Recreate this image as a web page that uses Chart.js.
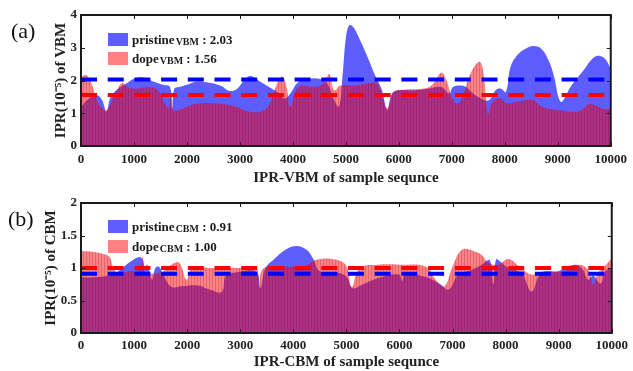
<!DOCTYPE html>
<html>
<head>
<meta charset="utf-8">
<script src="https://cdn.jsdelivr.net/npm/chart.js@4.4.1/dist/chart.umd.min.js"></script>
<style>
  body { margin: 0; background: #fff; width: 633px; height: 371px; overflow: hidden; position: relative; font-family: "Liberation Serif", serif; }
  canvas { position: absolute; left: 0; }
  #cA { top: 0; }
  #cB { top: 187px; }
  .tag { position: absolute; font-size: 22px; line-height: 22px; color: #111; }
  .row { position: absolute; left: 108px; height: 13px; display: flex; align-items: center; font-weight: bold; font-size: 13px; color: #1a1a1a; white-space: nowrap; }
  .row .box { width: 20px; height: 13px; margin-right: 4px; }
  .row sub { font-size: 10px; line-height: 0; position: relative; top: 2px; vertical-align: baseline; margin-left: 1px; }
</style>
</head>
<body>
<canvas id="cA" width="633" height="187"></canvas>
<canvas id="cB" width="633" height="184"></canvas>

<div class="tag" style="left:11px;top:20px">(a)</div>
<div class="tag" style="left:8px;top:208px">(b)</div>

<div class="row" style="top:33px"><span class="box" style="background:rgba(0,0,255,0.63)"></span>pristine<sub>VBM</sub>&nbsp;: 2.03</div>
<div class="row" style="top:52px"><span class="box" style="background:rgba(255,0,0,0.49)"></span>dope<sub>VBM</sub>&nbsp;: 1.56</div>
<div class="row" style="top:220px"><span class="box" style="background:rgba(0,0,255,0.63)"></span>pristine<sub>CBM</sub>&nbsp;: 0.91</div>
<div class="row" style="top:240px"><span class="box" style="background:rgba(255,0,0,0.49)"></span>dope<sub>CBM</sub>&nbsp;: 1.00</div>

<script>
// tick labels
const sampleTicks = [0, 1000, 2000, 3000, 4000, 5000, 6000, 7000, 8000, 9000, 10000];
const vbmTicks = [0, 1, 2, 3, 4];
const cbmTicks = [0, 0.5, 1, 1.5, 2];

// averages (dashed lines)
const pristineVbmMean = 2.03;
const dopeVbmMean = 1.56;
const pristineCbmMean = 0.91;
const dopeCbmMean = 1.00;

// (a) VBM
const pristineVbmX = [0,150,300,400,480,560,700,850,1000,1150,1350,1550,1680,1720,1760,1850,2000,2200,2450,2650,2800,2950,3100,3200,3350,3550,3700,3850,3950,4100,4300,4500,4650,4780,4870,4940,5000,5060,5130,5220,5320,5430,5560,5680,5780,5870,6000,6300,6550,6800,6950,7020,7150,7270,7400,7550,7700,7830,7930,8020,8110,8250,8400,8550,8700,8830,8930,9020,9080,9240,9490,9680,9800,9900,10000];
const pristineVbmY = [1.2,1.45,1.55,1.4,1.05,1.5,1.75,1.9,2.05,2.1,1.98,1.87,1.8,1.15,1.75,1.8,1.87,1.97,1.92,1.83,1.68,1.75,2.05,2.14,2.0,1.8,1.65,1.45,1.6,1.95,2.05,2.05,1.9,1.4,1.2,2.2,3.3,3.68,3.65,3.4,3.05,2.63,2.12,1.71,1.1,1.6,1.7,1.7,1.75,1.8,1.6,1.8,1.85,1.8,1.6,1.45,1.4,1.71,1.75,1.65,2.42,2.8,2.98,3.05,2.95,2.6,2.12,1.45,1.35,1.8,2.32,2.7,2.75,2.65,2.37];
const dopeVbmX = [0,100,200,300,400,480,560,680,780,880,1000,1300,1450,1600,1660,1700,1740,1850,2000,2200,2600,2800,3000,3150,3400,3550,3700,3800,3880,3950,4100,4450,4600,4685,4780,4900,5200,5450,5600,5780,5900,6100,6500,6650,6800,6900,7000,7100,7200,7350,7520,7600,7680,7750,7900,8050,8300,8520,8700,8900,9100,9400,9600,9760,9900,10000];
const dopeVbmY = [2.1,2.17,1.9,1.4,1.15,1.1,1.3,1.7,1.92,1.8,1.75,1.8,1.7,1.25,1.15,1.6,1.1,1.1,1.2,1.3,1.3,1.25,1.15,1.05,1.05,1.25,1.9,2.12,1.8,1.2,1.8,1.81,1.95,2.2,1.7,1.85,1.85,1.92,1.9,1.15,1.65,1.72,1.76,1.9,2.24,2.0,1.5,1.3,1.5,2.2,2.57,2.2,0.95,1.3,1.45,1.3,1.38,1.41,1.2,1.12,1.08,1.06,1.28,1.2,1.12,1.15];

// (b) CBM
const pristineCbmX = [0,300,600,750,900,1100,1170,1200,1250,1340,1400,1470,1550,1700,1900,2200,2450,2650,2730,2900,3300,3380,3450,3500,3630,3850,4060,4250,4370,4500,4800,5000,5120,5310,5620,5990,6050,6100,6400,6620,6750,6930,7110,7360,7550,7700,7770,7820,7900,8050,8300,8490,8670,8990,9300,9450,9550,9650,9790,9880,10000];
const pristineCbmY = [0.85,0.86,0.9,0.98,1.08,1.17,1.12,1.0,1.05,0.82,1.0,1.02,0.9,0.71,0.72,0.73,0.66,0.63,0.88,0.93,0.94,0.69,0.95,1.03,1.13,1.28,1.34,1.28,1.15,0.95,0.93,0.87,0.69,0.75,0.85,0.9,0.8,0.89,0.88,0.82,0.76,0.67,0.9,0.97,1.05,1.12,0.75,1.13,1.1,1.0,0.92,0.64,0.92,0.95,1.05,0.98,0.82,0.88,0.76,0.95,1.0];
const dopeCbmX = [0,200,400,540,600,700,900,1100,1160,1200,1500,1700,1850,1990,2100,2400,2700,3000,3300,3360,3420,3700,4200,4450,4800,5000,5100,5250,5600,6000,6500,6700,6850,6990,7180,7430,7550,7680,7860,8050,8240,8490,8730,9110,9360,9550,9650,9740,9860,10000];
const dopeCbmY = [1.26,1.25,1.22,1.17,1.02,0.92,0.95,0.98,1.18,0.95,0.93,1.05,1.08,0.82,1.02,1.0,1.0,1.0,1.0,0.71,0.98,1.02,1.03,1.13,1.13,1.03,0.7,1.0,1.05,1.05,1.02,0.8,0.72,1.0,1.28,1.25,1.2,1.08,1.05,1.14,1.04,0.9,0.95,0.95,1.05,0.98,0.75,0.92,1.02,1.15];

const BLUE_FILL = 'rgba(0,0,255,0.63)';
const RED_FILL = 'rgba(255,0,0,0.49)';
const FONT = '"Liberation Serif", "Times New Roman", serif';

function toPoints(xs, ys) {
    return xs.map((x, i) => ({ x: x, y: ys[i] }));
}

// thin vertical bar edges like the matlab bar plot underneath
function stripedFill(ctx, base) {
    const pc = document.createElement('canvas');
    pc.width = 3; pc.height = 4;
    const p = pc.getContext('2d');
    p.fillStyle = base;
    p.fillRect(0, 0, 3, 4);
    p.fillStyle = 'rgba(110,0,70,0.22)';
    p.fillRect(2, 0, 1, 4);
    return ctx.createPattern(pc, 'repeat');
}

// box around the plot with matlab-style inward ticks
const boxPlugin = {
    id: 'box',
    afterDatasetsDraw(chart) {
        const { ctx, chartArea: a, scales: { x, y } } = chart;
        ctx.save();
        ctx.strokeStyle = '#1a1a1a';
        ctx.lineWidth = 1;
        ctx.beginPath();
        x.ticks.forEach(t => {
            const px = Math.round(x.getPixelForValue(t.value)) + 0.5;
            ctx.moveTo(px, a.bottom); ctx.lineTo(px, a.bottom - 4);
            ctx.moveTo(px, a.top); ctx.lineTo(px, a.top + 4);
        });
        y.ticks.forEach(t => {
            const py = Math.round(y.getPixelForValue(t.value)) + 0.5;
            ctx.moveTo(a.left, py); ctx.lineTo(a.left + 4, py);
            ctx.moveTo(a.right, py); ctx.lineTo(a.right - 4, py);
        });
        ctx.stroke();
        ctx.lineWidth = 2;
        ctx.strokeRect(a.left, a.top, a.width, a.height);
        ctx.restore();
    }
};

function makePanel(canvasId, cfg) {
    const ctx = document.getElementById(canvasId).getContext('2d');
    const H = ctx.canvas.height;
    const area = (xs, ys, color, order) => ({
        data: toPoints(xs, ys), borderWidth: 0, backgroundColor: color, fill: 'origin',
        pointRadius: 0, tension: 0.4, order: order
    });
    const dash = (v, color) => ({
        data: [{ x: 0, y: v }, { x: 10000, y: v }], borderColor: color, borderWidth: 4,
        borderDash: [16, 10.7], pointRadius: 0, fill: false, order: 0
    });
    return new Chart(ctx, {
        type: 'line',
        data: {
            datasets: [
                dash(cfg.pMean, '#0000ff'),
                dash(cfg.dMean, '#ff0000'),
                area(cfg.dX, cfg.dY, stripedFill(ctx, RED_FILL), 1),
                area(cfg.pX, cfg.pY, BLUE_FILL, 2)
            ]
        },
        options: {
            responsive: false,
            animation: false,
            layout: { padding: { top: cfg.top, right: 17, left: 0, bottom: 0 } },
            scales: {
                x: {
                    type: 'linear', min: 0, max: 10000,
                    afterBuildTicks: s => { s.ticks = sampleTicks.map(v => ({ value: v })); },
                    afterFit: s => { s.height = H - cfg.bottom; },
                    ticks: { color: '#222', font: { family: FONT, size: 13, weight: 'bold' }, padding: cfg.tickPad, maxRotation: 0, autoSkip: false, callback: v => String(v) },
                    grid: { display: false, drawTicks: false },
                    border: { display: false },
                    title: { display: true, text: cfg.xTitle, color: '#222', font: { family: FONT, size: 15, weight: 'bold' }, padding: 0 }
                },
                y: {
                    min: 0, max: cfg.yMax,
                    afterBuildTicks: s => { s.ticks = cfg.yTicks.map(v => ({ value: v })); },
                    afterFit: s => { s.width = 81; },
                    ticks: { color: '#222', font: { family: FONT, size: 13, weight: 'bold' }, padding: 4, callback: v => String(v) },
                    grid: { display: false, drawTicks: false },
                    border: { display: false },
                    title: { display: true, text: cfg.yTitle, color: '#222', font: { family: FONT, size: 15, weight: 'bold' }, padding: { top: cfg.yTitleX - 9, bottom: 0 } }
                }
            },
            plugins: { legend: { display: false }, tooltip: { enabled: false } }
        },
        plugins: [boxPlugin]
    });
}

makePanel('cA', {
    pX: pristineVbmX, pY: pristineVbmY, dX: dopeVbmX, dY: dopeVbmY,
    pMean: pristineVbmMean, dMean: dopeVbmMean,
    yMax: 4, yTicks: vbmTicks, top: 15, bottom: 146, tickPad: 6, yTitleX: 61,
    xTitle: 'IPR-VBM of sample sequnce', yTitle: 'IPR(10\u207B\u2075) of VBM'
});

makePanel('cB', {
    pX: pristineCbmX, pY: pristineCbmY, dX: dopeCbmX, dY: dopeCbmY,
    pMean: pristineCbmMean, dMean: dopeCbmMean,
    yMax: 2, yTicks: cbmTicks, top: 16, bottom: 146, tickPad: 5, yTitleX: 51,
    xTitle: 'IPR-CBM of sample sequnce', yTitle: 'IPR(10\u207B\u2075) of CBM'
});
</script>
</body>
</html>
